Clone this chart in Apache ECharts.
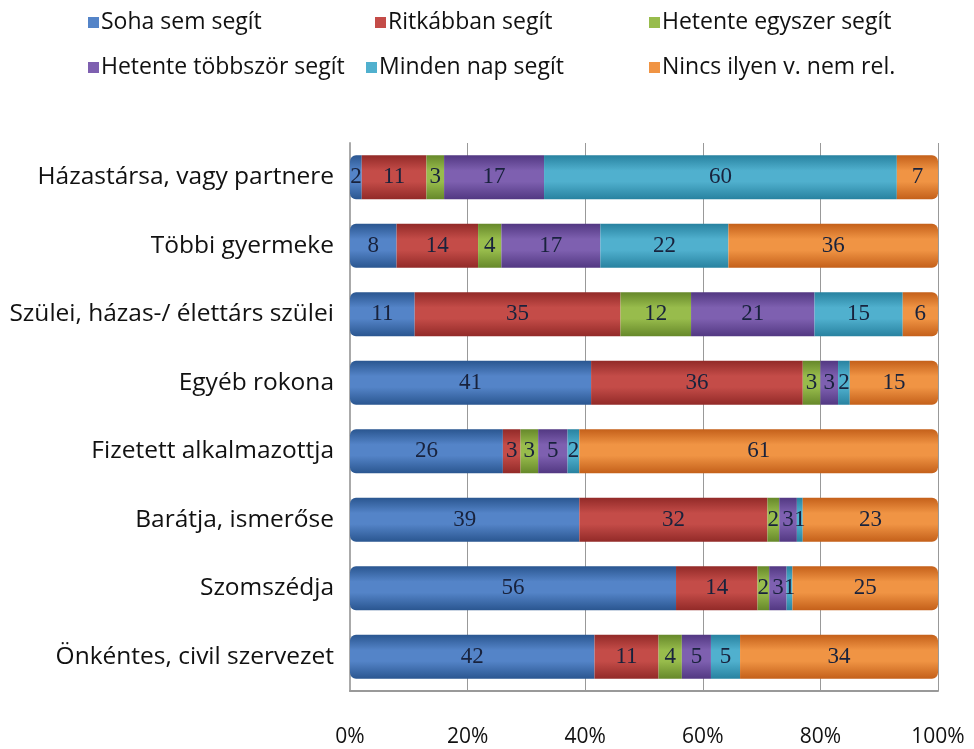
<!DOCTYPE html>
<html><head><meta charset="utf-8">
<script src="https://cdn.jsdelivr.net/npm/echarts@6/dist/echarts.min.js"></script>
<style>html,body{margin:0;padding:0;background:#fff}#c{width:974px;height:749px}</style>
</head><body><div id="c"></div>
<script>
const categories = ["Házastársa, vagy partnere","Többi gyermeke","Szülei, házas-/ élettárs szülei","Egyéb rokona","Fizetett alkalmazottja","Barátja, ismerőse","Szomszédja","Önkéntes, civil szervezet"];
const seriesNames = ["Soha sem segít","Ritkábban segít","Hetente egyszer segít","Hetente többször segít","Minden nap segít","Nincs ilyen v. nem rel."];
const soha = [2,8,11,41,26,39,56,42];
const ritkabban = [11,14,35,36,3,32,14,11];
const egyszer = [3,4,12,3,3,2,2,4];
const tobbszor = [17,17,21,3,5,3,3,5];
const mindennap = [60,22,15,2,2,1,1,5];
const nincs = [7,36,6,15,61,23,25,34];
const tickLabels = ["0%","20%","40%","60%","80%","100%"];
const colors = [["#2a5690","#5484c8"],["#922a28","#c44c48"],["#66882a","#98bc4c"],["#523882","#7e60b0"],["#2882a0","#50b0ce"],["#c4601a","#f09444"]];

const FONT = '"Open Sans", Noto Sans, sans-serif';
const all = [soha,ritkabban,egyszer,tobbszor,mindennap,nincs];
const totals = categories.map((_,i)=>all.reduce((s,a)=>s+a[i],0));
function grad(c){return new echarts.graphic.LinearGradient(0,0,0,1,[{offset:0,color:c[0]},{offset:0.35,color:c[1]},{offset:0.6,color:c[1]},{offset:1,color:c[0]}]);}
const series = all.map((arr,k)=>({
  name: seriesNames[k], type:'bar', stack:'t', barWidth:44,
  data: arr.map((v,i)=>({value: v/totals[i]*100, raw:v})),
  itemStyle:{color:grad(colors[k]), borderRadius: k===5?[0,6,6,0]:(k===0?[6,0,0,6]:0)},
  label:{show:true, position:'inside', formatter:p=>p.data.raw, color:'#18223c', fontFamily:'Liberation Serif', fontSize:23}
}));
const legendPos = [[83,6],[370,6],[644,6],[83,51],[361,51],[644,51]];
const legends = seriesNames.map((n,k)=>({
  data:[{name:n, itemStyle:{color:colors[k][1]}}],
  left:legendPos[k][0], top:legendPos[k][1], itemWidth:11, itemHeight:11, itemGap:0, icon:'rect',
  textStyle:{fontFamily:FONT, fontSize:23, color:'#111', padding:[0,0,0,-3]}
}));
const chart = echarts.init(document.getElementById('c'));
chart.setOption({
  animation:false,
  legend: legends,
  grid:{left:350, right:36, top:143, bottom:58},
  xAxis:{type:'value', min:0, max:100, interval:20,
    axisLine:{show:true, lineStyle:{color:'#999', width:2}}, axisTick:{show:false},
    splitLine:{show:true, lineStyle:{color:'#999', width:1}},
    axisLabel:{margin:36, formatter:v=>tickLabels[v/20], fontFamily:FONT, fontSize:21, color:'#111'}},
  yAxis:{type:'category', data:categories, inverse:true,
    axisLine:{show:true, lineStyle:{color:'#aaa', width:2}}, axisTick:{show:false},
    axisLabel:{margin:16, fontFamily:FONT, fontSize:24.5, color:'#111'}},
  series: series
});
</script></body></html>
